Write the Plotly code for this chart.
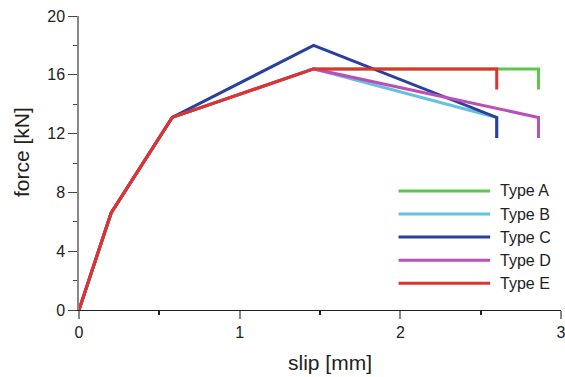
import plotly.graph_objects as go

names = ["Type A", "Type B", "Type C", "Type D", "Type E"]
colors = ["#5cc84a", "#66c0e2", "#2b3f9e", "#bb4fb8", "#e1322b"]
slip = {
    "Type A": [0, 0.2, 0.58, 1.46, 2.86, 2.86],
    "Type B": [0, 0.2, 0.58, 1.46, 2.60, 2.60],
    "Type C": [0, 0.2, 0.58, 1.46, 2.60, 2.60],
    "Type D": [0, 0.2, 0.58, 1.46, 2.86, 2.86],
    "Type E": [0, 0.2, 0.58, 1.46, 2.60, 2.60],
}
force = {
    "Type A": [0, 6.6, 13.1, 16.4, 16.4, 15.0],
    "Type B": [0, 6.6, 13.1, 16.4, 13.1, 11.7],
    "Type C": [0, 6.6, 13.1, 18.0, 13.1, 11.7],
    "Type D": [0, 6.6, 13.1, 16.4, 13.1, 11.7],
    "Type E": [0, 6.6, 13.1, 16.4, 16.4, 15.0],
}
x_ticks = [0, 1, 2, 3]
y_ticks = [0, 4, 8, 12, 16, 20]
x_title = "slip [mm]"
y_title = "force [kN]"

fig = go.Figure()
for n, c in zip(names, colors):
    fig.add_trace(go.Scatter(x=slip[n], y=force[n], mode="lines", name=n,
                             line=dict(color=c, width=3), showlegend=False))

# manual legend
leg_x0, leg_x1, leg_tx = 0.663, 0.853, 0.87
leg_y0, leg_dy = 0.405, 0.0785
shapes = []
annots = []
for i, (n, c) in enumerate(zip(names, colors)):
    yy = leg_y0 - i * leg_dy
    shapes.append(dict(type="line", xref="paper", yref="paper", x0=leg_x0, x1=leg_x1,
                       y0=yy, y1=yy, line=dict(color=c, width=3)))
    annots.append(dict(xref="paper", yref="paper", x=leg_tx, y=yy, text=n, showarrow=False,
                       xanchor="left", yanchor="middle",
                       font=dict(size=16, color="#222")))

# axis titles as container-positioned annotations
annots.append(dict(xref="paper", yref="paper", x=(330 - 79) / 482, y=-(362 - 310) / 294,
                   text=x_title, showarrow=False, xanchor="center", yanchor="middle",
                   font=dict(size=21, color="#222")))
annots.append(dict(xref="paper", yref="paper", x=-(79 - 21) / 482, y=(310 - 152) / 294,
                   text=y_title, showarrow=False, xanchor="center", yanchor="middle",
                   textangle=-90, font=dict(size=21, color="#222")))

font_family = "Liberation Sans, Arial, sans-serif"
fig.update_layout(
    width=565, height=377,
    margin=dict(l=79, r=4, t=16, b=67, autoexpand=False),
    plot_bgcolor="white", paper_bgcolor="white",
    font=dict(family=font_family, color="#222"),
    shapes=shapes, annotations=annots,
    showlegend=False,
    xaxis=dict(range=[0, 3], tickvals=x_ticks, ticks="outside", ticklen=8, tickwidth=1.5,
               tickcolor="#888", showline=True, linecolor="#222", linewidth=1.2,
               showgrid=False, zeroline=False, tickfont=dict(size=16),
               ticklabeloverflow="allow", automargin=False,
               minor=dict(dtick=0.5, tick0=0, ticks="outside", ticklen=4, tickcolor="#222")),
    yaxis=dict(range=[0, 20], tickvals=y_ticks, ticks="outside", ticklen=9, tickwidth=1.2,
               tickcolor="#444", showline=True, linecolor="#888", linewidth=1.5,
               showgrid=False, zeroline=False, tickfont=dict(size=16), automargin=False,
               minor=dict(dtick=2, tick0=0, ticks="outside", ticklen=4, tickcolor="#444")),
)
fig.write_html("out.html")
